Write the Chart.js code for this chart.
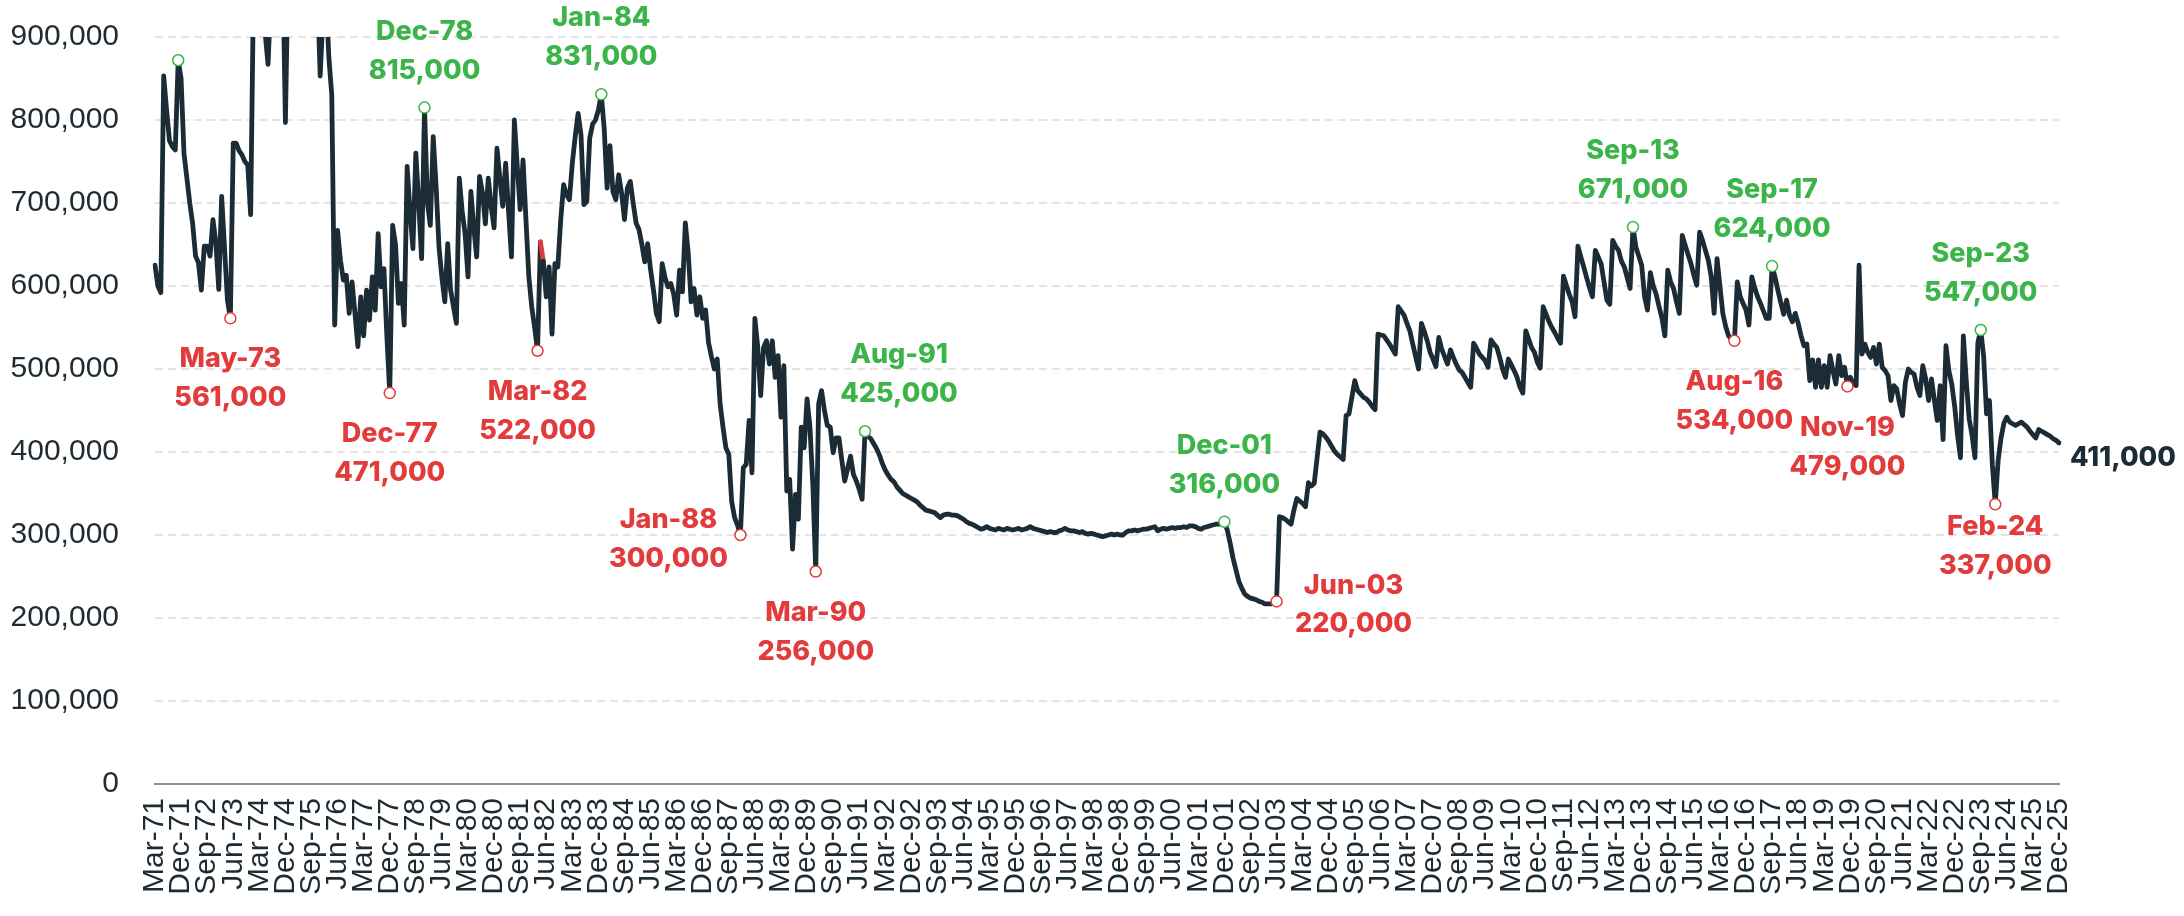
<!DOCTYPE html>
<html>
<head>
<meta charset="utf-8">
<script src="https://cdn.jsdelivr.net/npm/chart.js@4.4.1/dist/chart.umd.min.js"></script>
<style>
  html, body { margin: 0; padding: 0; background: #ffffff; }
  #wrap { width: 2184px; height: 916px; position: relative; }
</style>
</head>
<body>
<div id="wrap"><canvas id="chart"></canvas></div>
<script>
// Monthly series in thousands, starting Mar-71
const values1970s = [
  625, 600, 592, 853, 812, 775, 768, 764, 872, 850,
  760, 730, 700, 675, 636, 628, 595, 648, 648, 636,
  680, 652, 596, 708, 645, 583, 561, 772, 772, 763,
  758, 750, 746, 686, 960, 1000, 985, 950, 905, 867,
  950, 985, 1010, 995, 1000, 797, 1000, 990, 1020, 1000,
  980, 1010, 1030, 1000, 975, 990, 960, 853, 930, 950,
  875, 830, 553, 667, 631, 607, 613, 567, 605, 567,
  527, 587, 540, 595, 559, 611, 571, 663, 599, 621,
  540, 471, 673, 650, 579, 603, 553, 744, 690, 645,
  760, 700, 633, 815, 700, 673, 780, 720, 647, 610,
  581, 651, 595, 575, 555, 730
];
const values1980s = [
  690, 663, 611, 714,
  670, 635, 732, 712, 675, 730, 696, 670, 766, 730,
  696, 748, 690, 635, 800, 745, 692, 752, 680, 611,
  575, 550, 522, 653, 630, 587, 623, 542, 627, 623,
  680, 722, 710, 704, 748, 780, 808, 782, 698, 702,
  778, 795, 800, 812, 831, 790, 718, 769, 714, 704,
  734, 712, 680, 718, 726, 700, 676, 668, 650, 629,
  651, 620, 595, 567, 557, 627, 610, 599, 603, 590,
  565, 619, 593, 676, 640, 581, 597, 565, 587, 561,
  571, 532, 515, 500, 512, 458, 430, 405, 397, 340,
  321, 312, 300, 381, 385, 438, 375, 561, 526, 468,
  526, 534, 506, 534, 490, 516, 442, 504, 353, 367,
  283, 349, 319, 430, 405, 464
];
const values1990s = [
  430, 360, 256, 458,
  474, 450, 432, 430, 399, 417, 417, 390, 365, 380,
  395, 373, 365, 355, 343, 425, 419, 416, 410, 404,
  396, 386, 378, 372, 367, 364, 358, 354, 350, 348,
  346, 344, 342, 340, 336, 333, 330, 329, 328, 327,
  324, 321, 324, 325, 325, 324, 324, 323, 321, 319,
  316, 314, 313, 311, 309, 307, 308, 310, 308, 307,
  306, 308, 307, 306, 308, 307, 306, 307, 308, 306,
  307, 308, 310, 308, 307, 306, 305, 304, 303, 304,
  303, 303, 305, 306, 308, 306, 305, 305, 304, 303,
  304, 302, 301, 302, 301, 300, 299, 298, 299, 300,
  301, 300, 301, 300, 300, 303, 305, 305, 306, 305,
  306, 307, 307, 308, 309, 310
];
const values2000s = [
  305, 307, 308, 307,
  308, 309, 308, 309, 309, 310, 309, 311, 311, 310,
  308, 307, 309, 310, 311, 312, 313, 313, 314, 316,
  306, 290, 272, 258, 244, 236, 229, 226, 224, 223,
  222, 220, 219, 217, 217, 217, 218, 220, 322, 321,
  319, 316, 313, 330, 344, 341, 338, 334, 363, 359,
  362, 393, 424, 422, 418, 413, 407, 401, 397, 394,
  391, 444, 446, 466, 486, 474, 470, 466, 464, 460,
  455, 451, 542, 541, 540, 535, 530, 524, 518, 575,
  570, 565, 555, 546, 530, 515, 500, 555, 545, 534,
  520, 512, 503, 538, 524, 515, 506, 523, 514, 506,
  499, 496, 490, 484, 478, 531, 525, 518, 514, 510,
  502, 535, 530, 526, 514, 500
];
const values2010s = [
  490, 512, 505, 498,
  490, 478, 471, 546, 536, 526, 520, 508, 501, 575,
  566, 557, 550, 544, 537, 531, 612, 601, 590, 581,
  563, 648, 635, 623, 610, 598, 587, 643, 635, 627,
  605, 583, 578, 655, 648, 643, 630, 623, 610, 597,
  671, 647, 636, 625, 587, 571, 616, 600, 590, 575,
  561, 540, 619, 605, 597, 581, 567, 661, 649, 638,
  627, 613, 601, 665, 655, 643, 631, 611, 567, 633,
  600, 567, 551, 540, 536, 534, 605, 587, 579, 571,
  553, 611, 598, 587, 579, 570, 561, 561, 624, 611,
  595, 580, 566, 583, 565, 557, 567, 555, 540, 528,
  530, 486, 511, 478, 511, 478, 504, 478, 516, 498,
  482, 516, 492, 502, 479, 490
];
const values2020s = [
  482, 480, 625, 518,
  530, 520, 514, 526, 506, 530, 502, 498, 492, 462,
  480, 476, 458, 444, 484, 500, 496, 494, 478, 468,
  504, 488, 462, 488, 462, 438, 480, 415, 528, 498,
  482, 455, 420, 393, 540, 486, 440, 420, 393, 532,
  547, 515, 446, 462, 385, 337, 390, 417, 435, 442,
  436, 434, 432, 434, 436, 433, 430, 425, 421, 417,
  427, 425, 423, 421, 419, 416, 414, 411
];

// Marked turning points
const highs = ['Nov-71', 'Dec-78', 'Jan-84', 'Aug-91', 'Dec-01', 'Sep-13', 'Sep-17', 'Sep-23'];
const lows = ['May-73', 'Dec-77', 'Mar-82', 'Jan-88', 'Mar-90', 'Jun-03', 'Aug-16', 'Nov-19', 'Feb-24'];

// Axis labels shown on the x axis
const tickLabels = [
  'Mar-71', 'Dec-71', 'Sep-72', 'Jun-73', 'Mar-74', 'Dec-74', 'Sep-75', 'Jun-76', 'Mar-77', 'Dec-77',
  'Sep-78', 'Jun-79', 'Mar-80', 'Dec-80', 'Sep-81', 'Jun-82', 'Mar-83', 'Dec-83', 'Sep-84', 'Jun-85',
  'Mar-86', 'Dec-86', 'Sep-87', 'Jun-88', 'Mar-89', 'Dec-89', 'Sep-90', 'Jun-91', 'Mar-92', 'Dec-92',
  'Sep-93', 'Jun-94', 'Mar-95', 'Dec-95', 'Sep-96', 'Jun-97', 'Mar-98', 'Dec-98', 'Sep-99', 'Jun-00',
  'Mar-01', 'Dec-01', 'Sep-02', 'Jun-03', 'Mar-04', 'Dec-04', 'Sep-05', 'Jun-06', 'Mar-07', 'Dec-07',
  'Sep-08', 'Jun-09', 'Mar-10', 'Dec-10', 'Sep-11', 'Jun-12', 'Mar-13', 'Dec-13', 'Sep-14', 'Jun-15',
  'Mar-16', 'Dec-16', 'Sep-17', 'Jun-18', 'Mar-19', 'Dec-19', 'Sep-20', 'Jun-21', 'Mar-22', 'Dec-22',
  'Sep-23', 'Jun-24', 'Mar-25', 'Dec-25'
];
const yTicks = [0, 100000, 200000, 300000, 400000, 500000, 600000, 700000, 800000, 900000];

// colours / fonts
const LINE = '#1b2c36';
const GREEN = '#3bb54a';
const RED = '#e23b3b';
const TEXT = '#1f2b33';
const TICK_FONT = '"Liberation Sans", Arial, sans-serif';
const LABEL_FONT = 'Inter, "Noto Sans", sans-serif';
const flaggedSegment = 'Apr-82';

// label placement tweaks for crowded spots
const placement = {
  'Nov-71': { hidden: true },
  'Aug-91': { dx: 34 },
  'Jan-88': { side: 'left' },
  'Jun-03': { side: 'right' },
  'Feb-24': { dy: -18 }
};

const series = [].concat(values1970s, values1980s, values1990s, values2000s, values2010s, values2020s)
  .map(v => v * 1000);

const MONTHS = ['Jan', 'Feb', 'Mar', 'Apr', 'May', 'Jun', 'Jul', 'Aug', 'Sep', 'Oct', 'Nov', 'Dec'];
const categories = series.map((_, i) => {
  const m = 2 + i; // starts in March 1971
  const yr = 1971 + Math.floor(m / 12);
  return MONTHS[m % 12] + '-' + String(yr % 100).padStart(2, '0');
});

const shownTicks = new Set(tickLabels);
const highSet = new Set(highs);
const lowSet = new Set(lows);
const fmt = v => v.toLocaleString('en-US');

const markLabels = {
  id: 'markLabels',
  afterDatasetsDraw(chart) {
    const { ctx, scales: { x, y } } = chart;
    ctx.save();
    ctx.font = '800 27px ' + LABEL_FONT;
    ctx.textBaseline = 'middle';
    ctx.textAlign = 'center';

    const put = (name, color, isHigh) => {
      const p = placement[name] || {};
      if (p.hidden) return;
      const i = categories.indexOf(name);
      const px = x.getPixelForValue(i);
      const py = y.getPixelForValue(series[i]);
      let cx = px + (p.dx || 0);
      let y1, y2;
      if (p.side === 'left') { cx = px - 72; y1 = py - 15; y2 = py + 24; }
      else if (p.side === 'right') { cx = px + 77; y1 = py - 16; y2 = py + 22; }
      else if (isHigh) { y1 = py - 76; y2 = py - 37; }
      else { y1 = py + 41 + (p.dy || 0); y2 = py + 80 + (p.dy || 0); }
      ctx.fillStyle = color;
      ctx.fillText(name, cx, y1);
      ctx.fillText(fmt(series[i]), cx, y2);
    };
    highs.forEach(n => put(n, GREEN, true));
    lows.forEach(n => put(n, RED, false));

    // latest value at the end of the line
    const last = series.length - 1;
    ctx.textAlign = 'left';
    ctx.fillStyle = LINE;
    ctx.fillText(fmt(series[last]), x.getPixelForValue(last) + 11, y.getPixelForValue(series[last]) + 15);
    ctx.restore();
  }
};

new Chart(document.getElementById('chart'), {
  type: 'line',
  data: {
    labels: categories,
    datasets: [{
      data: series,
      borderColor: LINE,
      borderWidth: 4.8,
      borderJoinStyle: 'round',
      borderCapStyle: 'round',
      tension: 0,
      fill: false,
      pointRadius: c => (highSet.has(categories[c.dataIndex]) || lowSet.has(categories[c.dataIndex])) ? 5.5 : 0,
      pointHoverRadius: 0,
      pointBorderWidth: 1.5,
      pointBackgroundColor: '#ffffff',
      pointBorderColor: c => highSet.has(categories[c.dataIndex]) ? GREEN : RED,
      segment: {
        borderColor: c => categories[c.p0DataIndex] === flaggedSegment ? RED : undefined
      }
    }]
  },
  options: {
    responsive: true,
    maintainAspectRatio: false,
    animation: false,
    layout: { padding: { top: 37, right: 125, left: 0, bottom: 0 } },
    plugins: { legend: { display: false }, tooltip: { enabled: false } },
    scales: {
      x: {
        type: 'category',
        offset: false,
        grid: { display: false, drawTicks: false },
        border: { display: true, color: '#8c9297', width: 2 },
        ticks: {
          autoSkip: false,
          minRotation: 90,
          maxRotation: 90,
          padding: 14,
          color: TEXT,
          font: { family: TICK_FONT, size: 30 },
          callback: function (value) {
            const lab = this.getLabelForValue(value);
            return shownTicks.has(lab) ? lab : '';
          }
        },
        afterFit: s => { s.height = 132; }
      },
      y: {
        min: 0,
        max: 900000,
        afterBuildTicks: s => { s.ticks = yTicks.map(v => ({ value: v })); },
        grid: {
          drawTicks: false,
          lineWidth: 2,
          color: c => c.tick && c.tick.value === 0 ? 'rgba(0,0,0,0)' : '#e4e4e4'
        },
        border: { display: false, dash: [8, 5] },
        ticks: {
          padding: 36,
          color: TEXT,
          font: { family: TICK_FONT, size: 30 },
          callback: v => fmt(v)
        },
        afterFit: s => {
          s.width = 155;
          // keep the tick padding from pushing the plot top down
          s.paddingTop = 0;
          s.paddingBottom = 0;
        }
      }
    }
  },
  plugins: [markLabels]
});
</script>
</body>
</html>
